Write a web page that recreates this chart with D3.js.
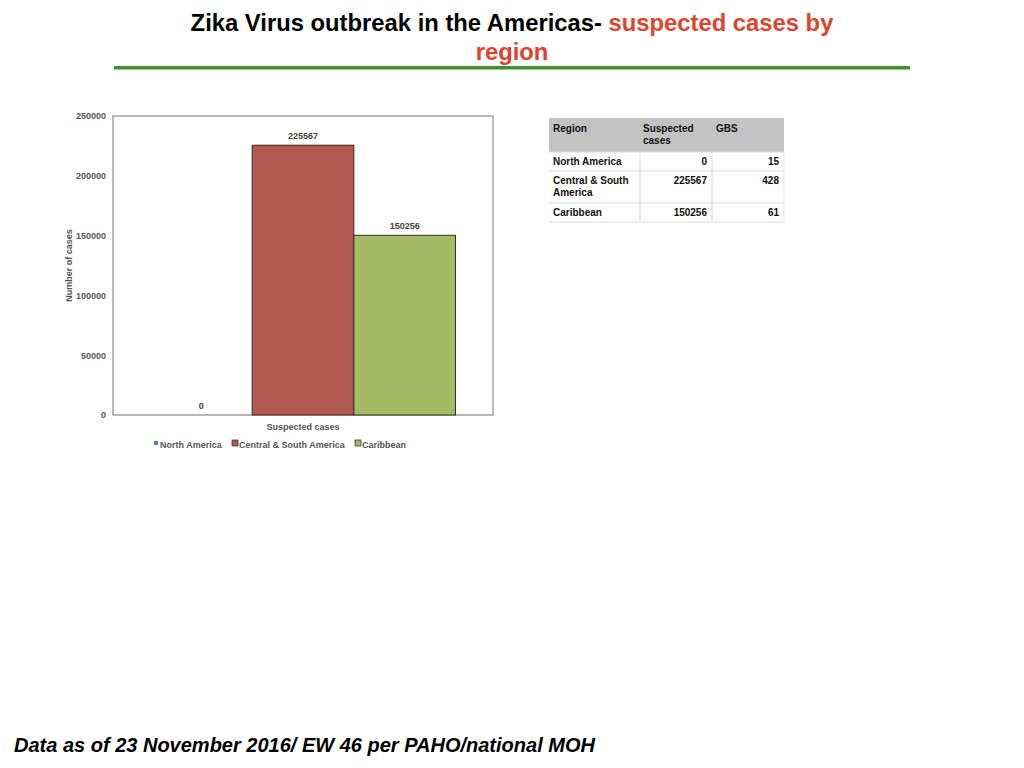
<!DOCTYPE html>
<html>
<head>
  <style>
    body {
      margin: 0;
      padding: 0;
      background: #fff;
      font-family: "Liberation Sans", Arial, sans-serif;
    }
    svg text { font-family: "Liberation Sans", Arial, sans-serif; }
  </style>
</head>
<body>
  <div id="chart"></div>

  <script src="https://cdnjs.cloudflare.com/ajax/libs/d3/7.8.5/d3.min.js"></script>
  <script>
    // chart data
    const categories = ['Suspected cases'];
    const regions = ['North America', 'Central & South America', 'Caribbean'];
    const suspected = [0, 225567, 150256];
    const gbs = [15, 428, 61];
    const regionColors = ['#4f81bd', '#b05a52', '#a2bb64'];
    const yTicks = [0, 50000, 100000, 150000, 200000, 250000];

    // table rows (region names wrap like the original)
    const tableHeader = [['Region'], ['Suspected', 'cases'], ['GBS']];
    const tableRegionLines = [['North America'], ['Central & South', 'America'], ['Caribbean']];

    const width = 1024, height = 768;

    const svg = d3.select('#chart')
      .append('svg')
      .attr('width', width)
      .attr('height', height);

    // title
    const title = svg.append('text')
      .attr('x', 512)
      .attr('y', 31)
      .attr('text-anchor', 'middle')
      .attr('font-size', '23.8px')
      .attr('font-weight', 'bold');
    title.append('tspan').attr('fill', '#000').text('Zika Virus outbreak in the Americas- ');
    title.append('tspan').attr('fill', '#e0442c').text('suspected cases by');

    svg.append('text')
      .attr('x', 512)
      .attr('y', 60)
      .attr('text-anchor', 'middle')
      .attr('font-size', '23.8px')
      .attr('font-weight', 'bold')
      .attr('fill', '#e0442c')
      .text('region');

    svg.append('rect')
      .attr('x', 114)
      .attr('y', 66)
      .attr('width', 796)
      .attr('height', 3.5)
      .attr('fill', '#3f9130');

    // bar chart
    const plot = { left: 113, top: 116, right: 493, bottom: 415 };

    const y = d3.scaleLinear()
      .domain([0, 250000])
      .range([plot.bottom, plot.top]);

    const x0 = d3.scaleBand()
      .domain(categories)
      .range([plot.left, plot.right])
      .paddingInner(0)
      .paddingOuter(0.123);

    const x1 = d3.scaleBand()
      .domain(regions)
      .range([0, x0.bandwidth()]);

    const color = d3.scaleOrdinal().domain(regions).range(regionColors);

    svg.append('rect')
      .attr('x', plot.left)
      .attr('y', plot.top)
      .attr('width', plot.right - plot.left)
      .attr('height', plot.bottom - plot.top)
      .attr('fill', '#fff')
      .attr('stroke', '#8c8c8c')
      .attr('stroke-width', 1.2);

    const yAxis = svg.append('g')
      .attr('transform', `translate(${plot.left - 7},0)`)
      .call(d3.axisLeft(y).tickValues(yTicks).tickSize(0).tickPadding(0).tickFormat(d3.format('d')));
    yAxis.select('.domain').remove();
    yAxis.selectAll('text')
      .attr('font-size', '9px')
      .attr('font-weight', 'bold')
      .attr('fill', '#555');

    svg.append('text')
      .attr('transform', `translate(72,${(plot.top + plot.bottom) / 2}) rotate(-90)`)
      .attr('text-anchor', 'middle')
      .attr('font-size', '9px')
      .attr('font-weight', 'bold')
      .attr('fill', '#555')
      .text('Number of cases');

    const barData = regions.map((r, i) => ({ cat: categories[0], region: r, value: suspected[i] }));

    const bars = svg.append('g')
      .selectAll('g')
      .data(barData)
      .enter()
      .append('g');

    bars.append('rect')
      .attr('x', d => x0(d.cat) + x1(d.region))
      .attr('y', d => y(d.value))
      .attr('width', x1.bandwidth())
      .attr('height', d => plot.bottom - y(d.value))
      .attr('fill', d => color(d.region))
      .attr('stroke', d => d.value > 0 ? '#3a2a22' : 'none')
      .attr('stroke-width', 1);

    bars.append('text')
      .attr('x', d => x0(d.cat) + x1(d.region) + x1.bandwidth() / 2)
      .attr('y', d => y(d.value) - 6)
      .attr('text-anchor', 'middle')
      .attr('font-size', '9px')
      .attr('font-weight', 'bold')
      .attr('fill', '#444')
      .text(d => d.value);

    svg.append('text')
      .attr('x', x0(categories[0]) + x0.bandwidth() / 2)
      .attr('y', 430)
      .attr('text-anchor', 'middle')
      .attr('font-size', '9px')
      .attr('font-weight', 'bold')
      .attr('fill', '#555')
      .text(categories[0]);

    // legend
    const legendX = [153, 232, 355];
    const legend = svg.append('g')
      .selectAll('g')
      .data(regions)
      .enter()
      .append('g')
      .attr('transform', (d, i) => `translate(${legendX[i]},444)`);

    legend.append('rect')
      .attr('x', (d, i) => i === 0 ? 1 : 0)
      .attr('y', (d, i) => i === 0 ? -3 : -4)
      .attr('width', (d, i) => i === 0 ? 4 : 6)
      .attr('height', (d, i) => i === 0 ? 4 : 6)
      .attr('fill', d => color(d))
      .attr('stroke', (d, i) => i === 0 ? 'none' : '#3a2a22')
      .attr('stroke-width', 0.7);

    legend.append('text')
      .attr('x', 7)
      .attr('y', 3.5)
      .attr('font-size', '9px')
      .attr('font-weight', 'bold')
      .attr('fill', '#555')
      .text(d => d);

    // table
    const colX = [549, 640, 712, 784];
    const rowY = [118, 152, 171, 203, 222];
    const table = svg.append('g');

    table.append('rect')
      .attr('x', colX[0])
      .attr('y', rowY[0])
      .attr('width', colX[3] - colX[0])
      .attr('height', rowY[1] - rowY[0])
      .attr('fill', '#c3c3c3');

    // grid lines
    rowY.slice(1).forEach(yy => {
      table.append('line')
        .attr('x1', colX[0]).attr('x2', colX[3])
        .attr('y1', yy).attr('y2', yy)
        .attr('stroke', '#d9d9d9');
    });
    colX.slice(1, 3).forEach(xx => {
      table.append('line')
        .attr('x1', xx).attr('x2', xx)
        .attr('y1', rowY[1]).attr('y2', rowY[4])
        .attr('stroke', '#d9d9d9');
    });
    table.append('line')
      .attr('x1', colX[3]).attr('x2', colX[3])
      .attr('y1', rowY[1]).attr('y2', rowY[4])
      .attr('stroke', '#e6e6e6');

    const cellText = (x, yTop, lines, anchor) => {
      const t = table.append('text')
        .attr('x', x)
        .attr('y', yTop + 13)
        .attr('text-anchor', anchor)
        .attr('font-size', '10px')
        .attr('font-weight', 'bold')
        .attr('fill', '#111');
      lines.forEach((l, i) => {
        t.append('tspan').attr('x', x).attr('dy', i === 0 ? 0 : 12).text(l);
      });
    };

    cellText(colX[0] + 4, rowY[0] + 1, tableHeader[0], 'start');
    cellText(colX[1] + 3, rowY[0] + 1, tableHeader[1], 'start');
    cellText(colX[2] + 4, rowY[0] + 1, tableHeader[2], 'start');

    regions.forEach((r, i) => {
      const top = rowY[i + 1];
      cellText(colX[0] + 4, top, tableRegionLines[i], 'start');
      cellText(colX[2] - 5, top, [String(suspected[i])], 'end');
      cellText(colX[3] - 5, top, [String(gbs[i])], 'end');
    });

    // footer
    svg.append('text')
      .attr('x', 14)
      .attr('y', 752)
      .attr('font-size', '20px')
      .attr('font-weight', 'bold')
      .attr('font-style', 'italic')
      .attr('fill', '#000')
      .text('Data as of 23 November 2016/ EW 46 per PAHO/national MOH');
  </script>
</body>
</html>
